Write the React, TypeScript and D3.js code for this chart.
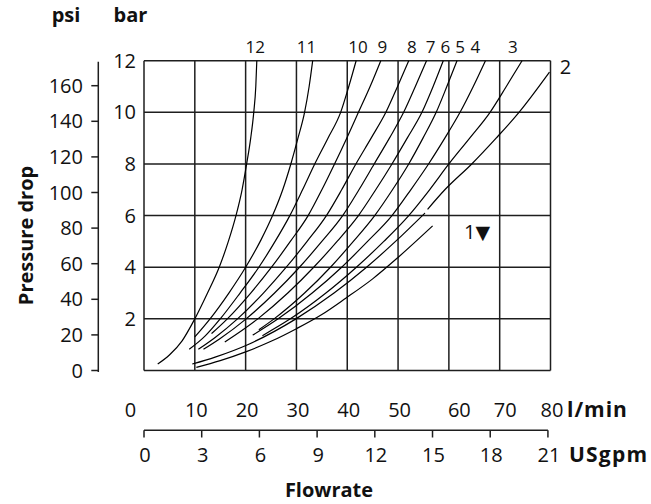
import React from 'react';
import * as d3 from 'd3';

// ---- data ----
const lpmTicks = [0, 10, 20, 30, 40, 50, 60, 70, 80];
const gpmTicks = [0, 3, 6, 9, 12, 15, 18, 21];
const barTicks = [2, 4, 6, 8, 10, 12];
const psiTicks = [0, 20, 40, 60, 80, 100, 120, 140, 160];

// [flow l/min, pressure bar]; null = gap in the drawn line
const curve12 = [[2.7, 0.25], [5, 0.6], [7.5, 1.15], [10, 2], [12.5, 3], [14.8, 4], [16.6, 5], [18.1, 6], [19.3, 7], [20.2, 8], [21, 9], [21.6, 10], [22, 11], [22.2, 12]];
const curve11 = [[10, 1.3], [13, 2], [16.7, 3], [20, 4], [23, 5.05], [25.3, 6], [27.3, 7], [28.9, 8], [30.3, 9], [31.6, 10], [32.5, 11], [33.2, 12]];
const curve10 = [[8.9, 0.82], [12, 1.33], [15, 2], [18.9, 3], [22.6, 4], [25.8, 5], [28.7, 6], [31.2, 7], [33.6, 8], [36.2, 9], [38.7, 10], [40.3, 11], [41.75, 12]];
const curve9 = [[13.3, 1.43], [16.4, 2], [21, 3], [25.1, 4], [28.8, 5], [32.3, 6], [35, 7], [37.5, 8], [39.9, 9], [42.2, 10], [44.5, 11], [46.6, 12]];
const curve8 = [[10.7, 0.82], [14, 1.28], [18.4, 2], [23.5, 3], [28, 4], [32.1, 5], [35.9, 6], [38.9, 7], [41.7, 8], [44.7, 9], [47.6, 10], [49.9, 11], [52.1, 12]];
const curve7 = [[11.7, 0.82], [15, 1.24], [20.1, 2], [25.7, 3], [30.6, 4], [35, 5], [39.1, 6], [42.3, 7], [45.3, 8], [48.3, 9], [51.1, 10], [53.4, 11], [55.6, 12]];
const curve6 = [[15.9, 1.1], [22.4, 2], [28.3, 3], [33.4, 4], [38, 5], [42.2, 6], [45.6, 7], [48.8, 8], [51.8, 9], [54.7, 10], [56.9, 11], [58.9, 12]];
const curve5 = [[22.6, 1.58], [25.6, 2], [31.6, 3], [36.7, 4], [41.2, 5], [45.4, 6], [48.9, 7], [52.1, 8], [54.9, 9], [57.5, 10], [59.6, 11], [61.6, 12]];
const curve4 = [[21.4, 1.37], [26.4, 2], [33.1, 3], [38.9, 4], [44, 5], [48.8, 6], [52.5, 7], [56, 8], [59.2, 9], [62.2, 10], [64.8, 11], [67.2, 12]];
const curve3 = [[23.3, 1.35], [28.8, 2], [35.8, 3], [41.8, 4], [47.2, 5], [52.1, 6], [56.2, 7], [60, 8], [64.1, 9], [68.1, 10], [71.3, 11], [74.4, 12]];
const curve2 = [[9.5, 0.25], [14, 0.52], [20.4, 1], [29.9, 2], [37.4, 3], [43.8, 4], [49.5, 5], [55.3, 6.1], null, [55.8, 6.24], [59.2, 7], [64.5, 8], [69.3, 9], [73.8, 10], [79.8, 11.56]];
const curve1 = [[10.3, 0.12], [15, 0.38], [20, 0.72], [25, 1.13], [30, 1.62], [35, 2.17], [39.7, 2.8], [45, 3.55], [50, 4.38], [56.8, 5.6]];

const curves = [curve12, curve11, curve10, curve9, curve8, curve7, curve6, curve5, curve4, curve3, curve2, curve1];
const topLabels = ['12', '11', '10', '9', '8', '7', '6', '5', '4', '3'];
const topLabelFlow = [21.9, 32.0, 42.1, 46.9, 52.7, 56.4, 59.3, 62.2, 65.2, 72.6];

const PSI_PER_BAR = 14.5038;
const LPM_PER_GPM = 3.78541;

export default function App() {
  const W = 651, H = 504;
  const x = d3.scaleLinear().domain([0, 80]).range([144, 550.5]);
  const y = d3.scaleLinear().domain([0, 12]).range([370.5, 60.7]);
  const psiY = (p: number) => y(p / PSI_PER_BAR);
  const gX = (g: number) => x(g * LPM_PER_GPM);

  const line = d3.line<any>()
    .defined((d: any) => d !== null)
    .x((d: any) => x(d[0]))
    .y((d: any) => y(d[1]))
    .curve(d3.curveMonotoneX);

  const font = "'Open Sans', 'DejaVu Sans', sans-serif";
  const gridColor = '#1e1e1e';
  const lpmNudge: Record<number, number> = { 0: -15, 60: 9, 70: 4 };

  const [x0, x1] = x.range();
  const [y0, y1] = y.range();

  return (
    <svg width={W} height={H} style={{ position: 'absolute', left: 0, top: 0, background: '#fff' }} fontFamily={font}>
      {/* grid */}
      <g stroke={gridColor} strokeWidth={1.5} fill="none">
        {lpmTicks.map(v => (
          <line key={'vx' + v} x1={x(v)} x2={x(v)} y1={y0} y2={y1} />
        ))}
        {[0, ...barTicks].map(v => (
          <line key={'hy' + v} x1={x0} x2={x1} y1={y(v)} y2={y(v)} />
        ))}
      </g>

      {/* curves */}
      <g stroke="#000" strokeWidth={1.2} fill="none">
        {curves.map((c, i) => (
          <path key={'c' + i} d={line(c as any) || ''} />
        ))}
      </g>

      {/* curve labels */}
      <g fontSize={17} fill="#111" textAnchor="middle">
        {topLabels.map((t, i) => (
          <text key={'tl' + t} x={x(topLabelFlow[i])} y={52.5}>{t}</text>
        ))}
      </g>
      <text x={x(curve2[curve2.length - 1]![0]) + 16} y={73.5} fontSize={20} textAnchor="middle" fill="#111">2</text>
      <text x={464} y={239} fontSize={20} fill="#111">1<tspan fontFamily="'DejaVu Sans'" fontSize={19}>▼</tspan></text>

      {/* bar axis labels */}
      <g fontSize={20} fill="#111" textAnchor="end">
        {barTicks.map(v => (
          <text key={'bl' + v} x={136} y={y(v)} dy="0.35em">{v}</text>
        ))}
      </g>

      {/* psi axis */}
      <g stroke={gridColor} strokeWidth={1.5}>
        <line x1={98.3} x2={98.3} y1={y(12) + 1} y2={y(0) + 1.5} />
        {psiTicks.map(v => (
          <line key={'pt' + v} x1={91.3} x2={98.3} y1={psiY(v)} y2={psiY(v)} />
        ))}
      </g>
      <g fontSize={20} fill="#111" textAnchor="end">
        {psiTicks.map(v => (
          <text key={'pl' + v} x={83} y={psiY(v)} dy="0.35em">{v}</text>
        ))}
      </g>

      {/* l/min labels */}
      <g fontSize={20} fill="#111" textAnchor="middle">
        {lpmTicks.map(v => (
          <text key={'ll' + v} x={x(v) + 1.5 + (lpmNudge[v] || 0)} y={416.5}>{v}</text>
        ))}
      </g>
      <text x={567} y={416.5} fontSize={21} fontWeight={700} letterSpacing={1} fill="#111">l/min</text>

      {/* USgpm axis */}
      <g stroke={gridColor} strokeWidth={1.5}>
        <line x1={gX(0)} x2={gX(21)} y1={430.3} y2={430.3} />
        {gpmTicks.map(v => (
          <line key={'gt' + v} x1={gX(v)} x2={gX(v)} y1={430.3} y2={437.5} />
        ))}
      </g>
      <g fontSize={20} fill="#111" textAnchor="middle">
        {gpmTicks.map(v => (
          <text key={'gl' + v} x={gX(v) + 1} y={461.5}>{v}</text>
        ))}
      </g>
      <text x={569} y={461.5} fontSize={21} fontWeight={700} letterSpacing={1.2} fill="#111">USgpm</text>

      {/* titles */}
      <text x={329} y={497} fontSize={20} fontWeight={700} fill="#111" textAnchor="middle">Flowrate</text>
      <text transform="translate(32.5,235.5) rotate(-90)" fontSize={20} fontWeight={700} fill="#111" textAnchor="middle">Pressure drop</text>
      <text x={66} y={22} fontSize={20} fontWeight={700} fill="#111" textAnchor="middle">psi</text>
      <text x={130.5} y={22} fontSize={20} fontWeight={700} fill="#111" textAnchor="middle">bar</text>
    </svg>
  );
}
